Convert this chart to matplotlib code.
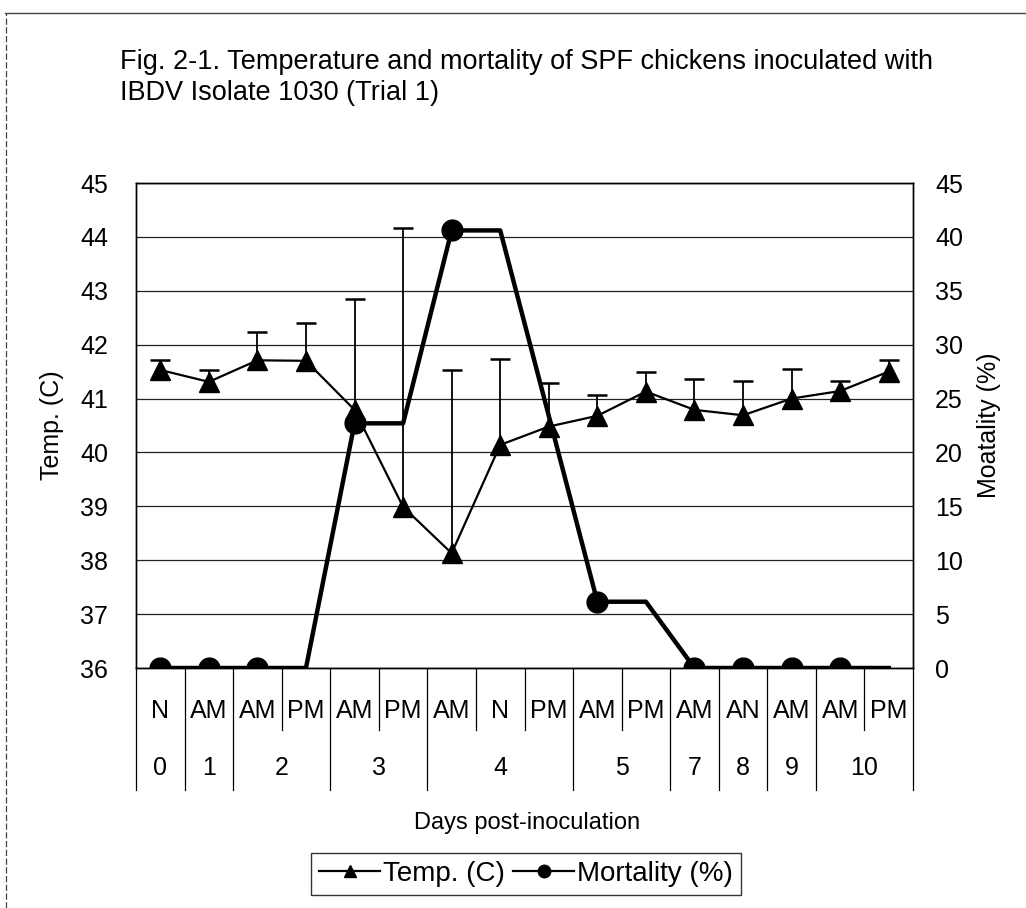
import matplotlib
matplotlib.use("Agg")
import matplotlib.pyplot as plt
from matplotlib.lines import Line2D
from matplotlib.transforms import blended_transform_factory
import numpy as np

plt.rcParams['font.family'] = ['Liberation Sans', 'DejaVu Sans']

# Categories: time of day and day post-inoculation
periods = ["N", "AM", "AM", "PM", "AM", "PM", "AM", "N", "PM", "AM", "PM", "AM", "AN", "AM", "AM", "PM"]
day_labels = ["0", "1", "2", "3", "4", "5", "7", "8", "9", "10"]
day_spans = [1, 1, 2, 2, 3, 2, 1, 1, 1, 2]

# Temperature (C) means and upper error
temp = [41.53, 41.31, 41.71, 41.70, 40.79, 38.99, 38.13, 40.14, 40.48, 40.68,
        41.13, 40.79, 40.69, 41.00, 41.14, 41.50]
temp_err = [0.18, 0.22, 0.52, 0.70, 2.06, 5.17, 3.40, 1.59, 0.81, 0.39,
            0.36, 0.57, 0.63, 0.55, 0.19, 0.21]

# Mortality (%) and which points carry a marker
mortality = [0, 0, 0, 0, 22.7, 22.7, 40.6, 40.6, 23.4, 6.15, 6.15, 0, 0, 0, 0, 0]
mortality_marked = [0, 1, 2, 4, 6, 9, 11, 12, 13, 14]

FS = 18

fig = plt.figure(figsize=(10.26, 9.08), dpi=100)
W, H = 1026, 908
ax = fig.add_axes([136 / W, 1 - 668 / H, (913 - 136) / W, (668 - 183) / H])
ax2 = ax.twinx()

x = np.arange(len(periods))

# Gridlines
ax.set_ylim(36, 45)
ax.set_yticks(range(36, 46))
ax.grid(axis='y', color='#222222', lw=0.9)
ax.set_axisbelow(True)
ax.set_xlim(-0.5, len(periods) - 0.5)
ax.set_xticks([])

# Temperature with upper error bars only
eb = ax.errorbar(x, temp, yerr=[np.zeros(len(temp)), temp_err], color='black', lw=1.6,
                 marker='^', markersize=15, capsize=7, elinewidth=1.3, capthick=1.8,
                 zorder=3)
temp_line, caps, _ = eb
caps[0].set_visible(False)
temp_line.set_label('Temp. (C)')

# Mortality on secondary axis
ax2.set_ylim(0, 45)
ax2.set_yticks(range(0, 50, 5))
mort_line, = ax2.plot(x, mortality, color='black', lw=3.2, marker='o', markersize=15,
                      markevery=mortality_marked, label='Mortality (%)', zorder=4)

for a in (ax, ax2):
    for s in a.spines.values():
        s.set_color('black')
        s.set_linewidth(1.0)
    a.tick_params(axis='y', length=0, labelsize=FS)
ax.tick_params(axis='y', pad=20)
ax2.tick_params(axis='y', pad=16)

ax.set_ylabel('Temp. (C)', fontsize=FS, labelpad=12)
ax2.set_ylabel('Moatality (%)', fontsize=FS, labelpad=10)

# Two-level category axis
tr = blended_transform_factory(ax.transData, fig.transFigure)
y_axis = 1 - 668 / H
y_row1 = 1 - 711 / H
y_row2 = 1 - 768 / H
y_short = 1 - 730 / H
y_long = 1 - 790 / H

for i, p in enumerate(periods):
    ax.text(i, y_row1, p, transform=tr, ha='center', va='center', fontsize=FS,
            clip_on=False)

bounds = np.cumsum([0] + day_spans)
day_edges = set(bounds.tolist())
for b in range(len(periods) + 1):
    y_end = y_long if b in day_edges else y_short
    ax.add_line(Line2D([b - 0.5, b - 0.5], [y_axis, y_end], transform=tr,
                       color='black', lw=0.9, clip_on=False))

for lab, start, span in zip(day_labels, bounds[:-1], day_spans):
    ax.text(start + (span - 1) / 2, y_row2, lab, transform=tr, ha='center',
            va='center', fontsize=FS, clip_on=False)

fig.text(527 / W, 1 - 823 / H, 'Days post-inoculation', ha='center', va='center',
         fontsize=17)

# Title
fig.text(120 / W, 1 - 62 / H, 'Fig. 2-1. Temperature and mortality of SPF chickens inoculated with',
         ha='left', va='center', fontsize=19.5)
fig.text(120 / W, 1 - 93 / H, 'IBDV Isolate 1030 (Trial 1)', ha='left', va='center',
         fontsize=19.5)

# Legend
leg = fig.legend([temp_line, mort_line], ['Temp. (C)', 'Mortality (%)'], loc='center',
                 bbox_to_anchor=(526 / W, 1 - 874 / H),
                 ncol=2, fontsize=20, markerscale=0.6, frameon=True, fancybox=False,
                 edgecolor='black', handlelength=2.2, handletextpad=0.1,
                 columnspacing=0.3, borderpad=0.3, borderaxespad=0)
leg.get_frame().set_linewidth(1.0)
for hl in leg.get_lines():
    hl.set_linewidth(1.6)

# Frame lines at the top and left of the figure
fig.add_artist(Line2D([5 / W, 1], [1 - 13 / H, 1 - 13 / H], transform=fig.transFigure,
                      color='#444444', lw=1.0))
fig.add_artist(Line2D([6 / W, 6 / W], [0, 1 - 13 / H], transform=fig.transFigure,
                      color='#444444', lw=0.9, linestyle=(0, (5, 2))))

fig.savefig('out.png', dpi=100)
